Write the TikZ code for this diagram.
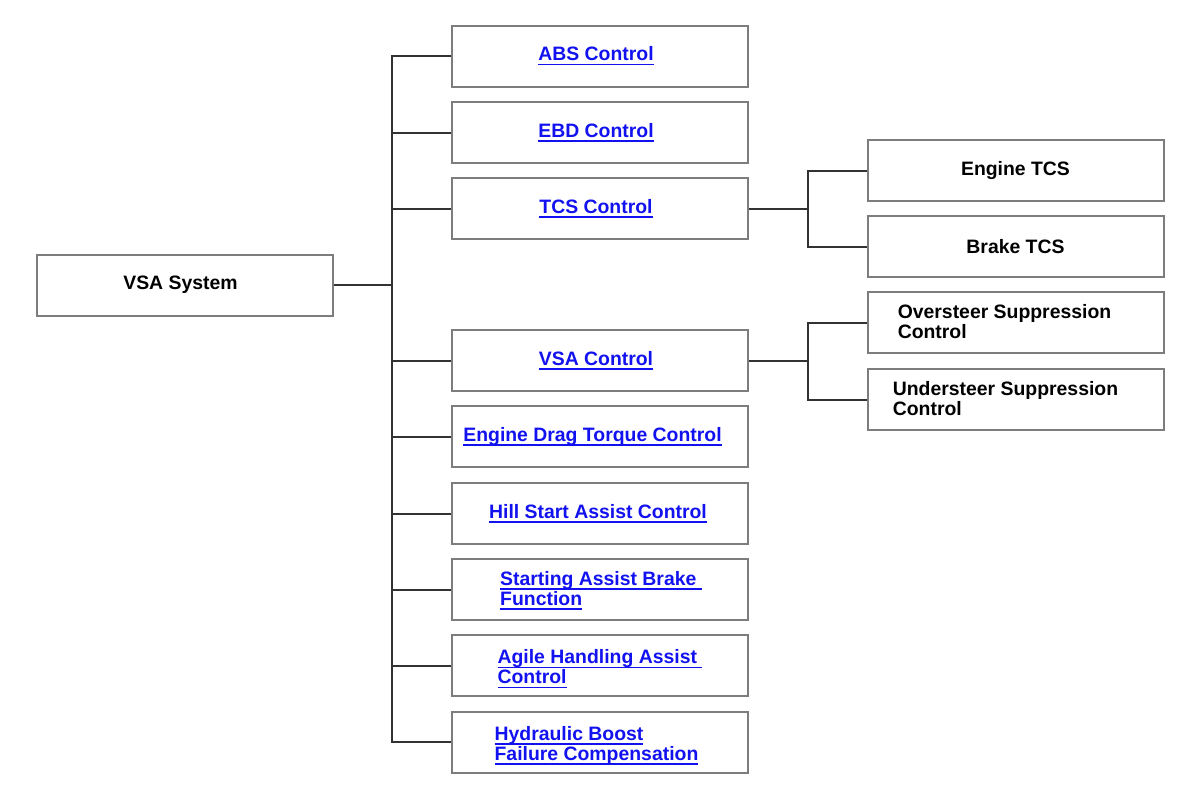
\documentclass[tikz,border=0pt]{standalone}
\usepackage{fontspec}
\setmainfont{Liberation Sans}
\definecolor{linkblue}{RGB}{18,18,240}
\definecolor{boxgray}{RGB}{125,125,125}
\definecolor{linegray}{RGB}{50,50,50}
\newsavebox{\lnkbox}
\newcommand{\lnk}[1]{\sbox{\lnkbox}{#1}\rlap{\rule[-4.5pt]{\wd\lnkbox}{1.6pt}}\usebox{\lnkbox}}
\begin{document}
\begin{tikzpicture}[x=1pt,y=-1pt,
  box/.style={draw=boxgray,line width=2pt,fill=white,minimum width=296pt,minimum height=61pt,inner sep=0pt,
    font=\fontsize{19.4}{20}\selectfont\bfseries},
  txt/.style={inner sep=0pt,align=left,font=\fontsize{19.4}{20}\selectfont\bfseries},
  link/.style={text=linkblue},
  conn/.style={draw=linegray,line width=2pt}]
\useasboundingbox (0,0) rectangle (1200,793);
\fill[white] (0,0) rectangle (1200,793);
% root
\node[box] (vsa) at (184.5,285) {\kern-8pt VSA System};
% middle column
\node[box,link] (abs) at (600,56) {\kern-8pt\lnk{ABS Control}};
\node[box,link] (ebd) at (600,132.5) {\kern-8pt\lnk{EBD Control}};
\node[box,link] (tcs) at (600,208.5) {\kern-8pt\lnk{TCS Control}};
\node[box,link] (vsac) at (600,360.5) {\kern-8pt\lnk{VSA Control}};
\node[box,link] (edt) at (600,436.5) {\kern-15pt\lnk{Engine Drag Torque Control}};
\node[box,link] (hsa) at (600,513.5) {\kern-4pt\lnk{Hill Start Assist Control}};
\node[box] (sab) at (600,589.5) {};
\node[txt,link] (sabt) at (601,590.5) {\lnk{Starting Assist Brake\ }\\\lnk{Function}};
\node[box] (aha) at (600,665.5) {};
\node[txt,link] (ahat) at (600,669) {\lnk{Agile Handling Assist\ }\\\lnk{Control}};
\node[box] (hbf) at (600,742) {};
\node[txt,link] (hbft) at (596.5,745.5) {\lnk{Hydraulic Boost}\\\lnk{Failure Compensation}};
% right column
\node[box] (etcs) at (1015.5,170.5) {Engine TCS};
\node[box] (btcs) at (1015.5,246.5) {Brake TCS};
\node[box] (over) at (1015.5,322.5) {};
\node[txt] (overt) at (1004.5,322) {Oversteer Suppression\\Control};
\node[box] (under) at (1015.5,399.5) {};
\node[txt] (undert) at (1005.5,399) {Understeer Suppression\\Control};
% connectors
\coordinate (trunk) at (392,285);
\draw[conn] (vsa.east) -- (trunk);
\draw[conn] (abs.west) -| (trunk) |- (hbf.west);
\foreach \n in {ebd,tcs,vsac,edt,hsa,sab,aha}
  \draw[conn] (\n.west) -- (392,0 |- \n.west);
\coordinate (tj) at (808,208.5);
\draw[conn] (tcs.east) -- (tj);
\draw[conn] (etcs.west) -| (tj) |- (btcs.west);
\coordinate (vj) at (808,360.5);
\draw[conn] (vsac.east) -- (vj);
\draw[conn] (over.west) -| (vj) |- (under.west);
\end{tikzpicture}
\end{document}
